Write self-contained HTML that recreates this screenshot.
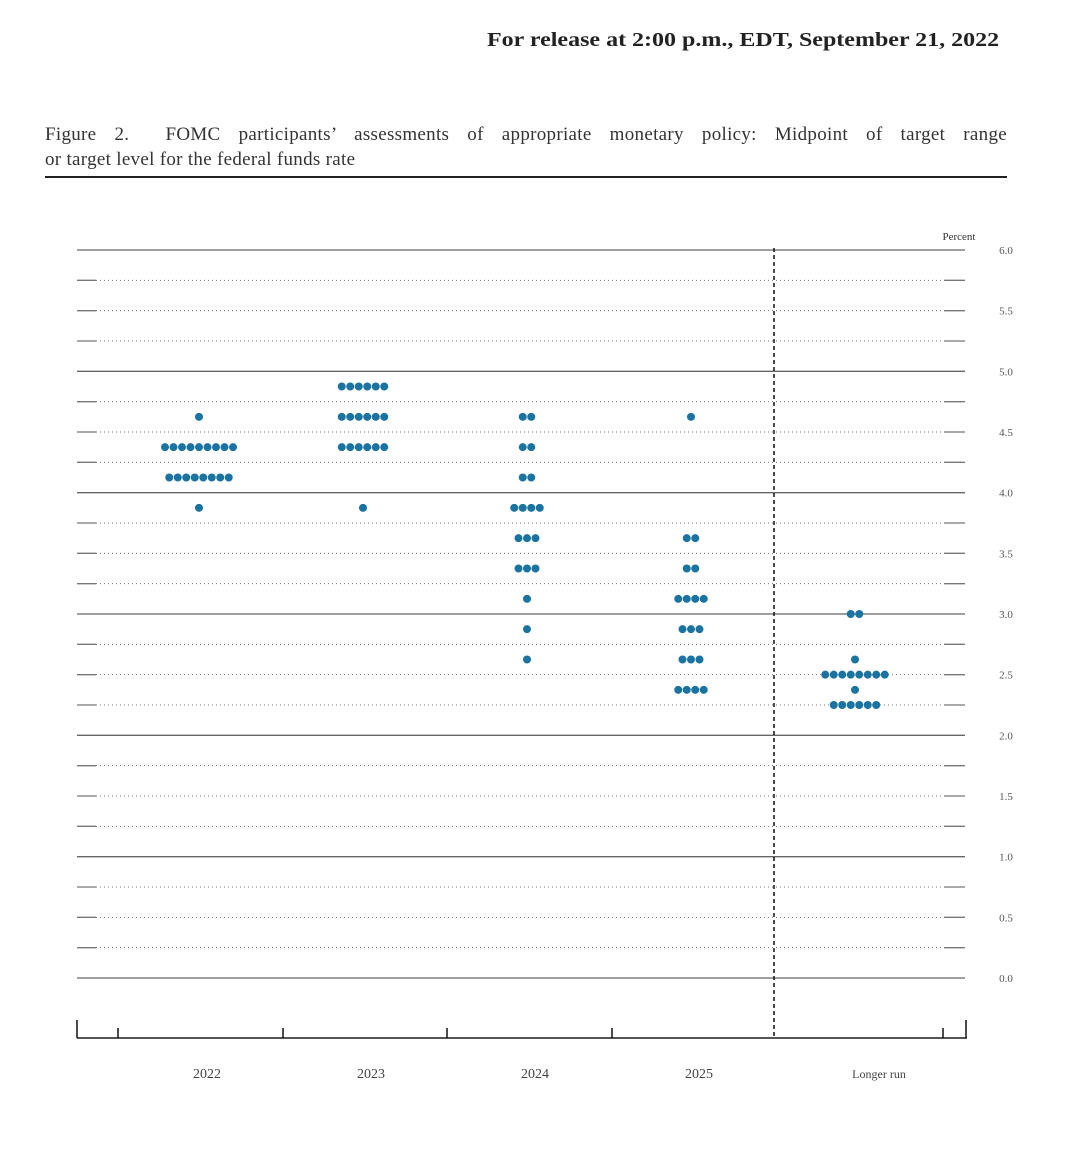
<!DOCTYPE html>
<html><head><meta charset="utf-8"><style>
body{margin:0;background:#fff;width:1080px;height:1150px;overflow:hidden;font-family:"Liberation Serif",serif}
</style></head><body>
<div style="position:absolute;left:487px;top:29px;font-weight:bold;font-size:20px;color:#222;transform:scaleX(1.2);transform-origin:0 0;white-space:nowrap">For release at 2:00 p.m., EDT, September 21, 2022</div>
<div style="position:absolute;left:45px;top:122px;width:962px;font-size:19px;line-height:25px;color:#333">
<div style="text-align:justify;text-align-last:justify;letter-spacing:0.3px">Figure 2.&nbsp; FOMC participants’ assessments of appropriate monetary policy: Midpoint of target range</div>
<div style="letter-spacing:0.3px">or target level for the federal funds rate</div>
</div>
<div style="position:absolute;left:45px;top:176px;width:962px;height:2px;background:#222"></div>
<svg id="chart" width="1080" height="1150" style="position:absolute;left:0;top:0" font-family="Liberation Serif, serif"></svg>
<script>
const categories=["2022","2023","2024","2025","Longer run"];
const rates2022=[4.625,4.375,4.125,3.875];
const counts2022=[1,9,8,1];
const rates2023=[4.875,4.625,4.375,3.875];
const counts2023=[6,6,6,1];
const rates2024=[4.625,4.375,4.125,3.875,3.625,3.375,3.125,2.875,2.625];
const counts2024=[2,2,2,4,3,3,1,1,1];
const rates2025=[4.625,3.625,3.375,3.125,2.875,2.625,2.375];
const counts2025=[1,2,2,4,3,3,4];
const ratesLR=[3.0,2.625,2.5,2.375,2.25];
const countsLR=[2,1,8,1,6];
const yTicks=["0.0","0.5","1.0","1.5","2.0","2.5","3.0","3.5","4.0","4.5","5.0","5.5","6.0"];

const NS="http://www.w3.org/2000/svg";
const svg=document.getElementById('chart');
const X0=77,X1=965,Y0=978,Y6=250;
const y=v=>Y0-(v/6)*(Y0-Y6);
const colX=[199,363,527,691,855];
function mk(t,a){const e=document.createElementNS(NS,t);for(const k in a)e.setAttribute(k,a[k]);svg.appendChild(e);return e;}
for(let i=0;i<=24;i++){
  const v=i*0.25,yy=y(v);
  if(i%4===0){
    const l=mk('line',{x1:X0,x2:X1,y1:yy,y2:yy,stroke:'#666','stroke-width':1.3});
    
    
  }else{
    const l=mk('line',{x1:96,x2:944,y1:yy,y2:yy,stroke:'#777','stroke-width':1,'stroke-dasharray':'1 3'});
    
    
    const a=mk('line',{x1:X0,x2:96,y1:yy,y2:yy,stroke:'#777','stroke-width':1.3});
    
    
    const b=mk('line',{x1:944,x2:X1,y1:yy,y2:yy,stroke:'#777','stroke-width':1.3});
    
    
  }
}
yTicks.forEach(t=>{
  const e=mk('text',{x:1006,y:y(parseFloat(t))+4,'font-size':11,fill:'#555','text-anchor':'middle'});
  e.textContent=t;
  
  
});
const pt=mk('text',{x:959,y:240,'font-size':11,fill:'#333','text-anchor':'middle'});
pt.textContent='Percent';


const dv=mk('line',{x1:774,x2:774,y1:248,y2:1038,stroke:'#111','stroke-width':1.5,'stroke-dasharray':'4 3'});


const ax=mk('line',{x1:X0,x2:967,y1:1038,y2:1038,stroke:'#555','stroke-width':2});


[[77,18],[118,10],[283,10],[447,10],[612,10],[943,10],[966,18]].forEach(([tx,h])=>{
  const t=mk('line',{x1:tx,x2:tx,y1:1038-h,y2:1038,stroke:'#111','stroke-width':1.5});
  
  
});
categories.forEach((c,i)=>{
  const cx=i<4?[207,371,535,699][i]:879;
  const e=mk('text',{x:cx,y:1078,'font-size':i<4?14:12,fill:'#444','text-anchor':'middle'});
  e.textContent=c;
  
  
});
const series=[[rates2022,counts2022],[rates2023,counts2023],[rates2024,counts2024],[rates2025,counts2025],[ratesLR,countsLR]];
const sp=8.5;
series.forEach(([rs,cs],ci)=>{
  rs.forEach((r,j)=>{
    const n=cs[j];
    for(let k=0;k<n;k++){
      const cx=colX[ci]+(k-(n-1)/2)*sp;
      const d=mk('circle',{cx:cx,cy:y(r),r:4,fill:'#1a73a0'});
      
      
    }
  });
});
</script>
</body></html>
